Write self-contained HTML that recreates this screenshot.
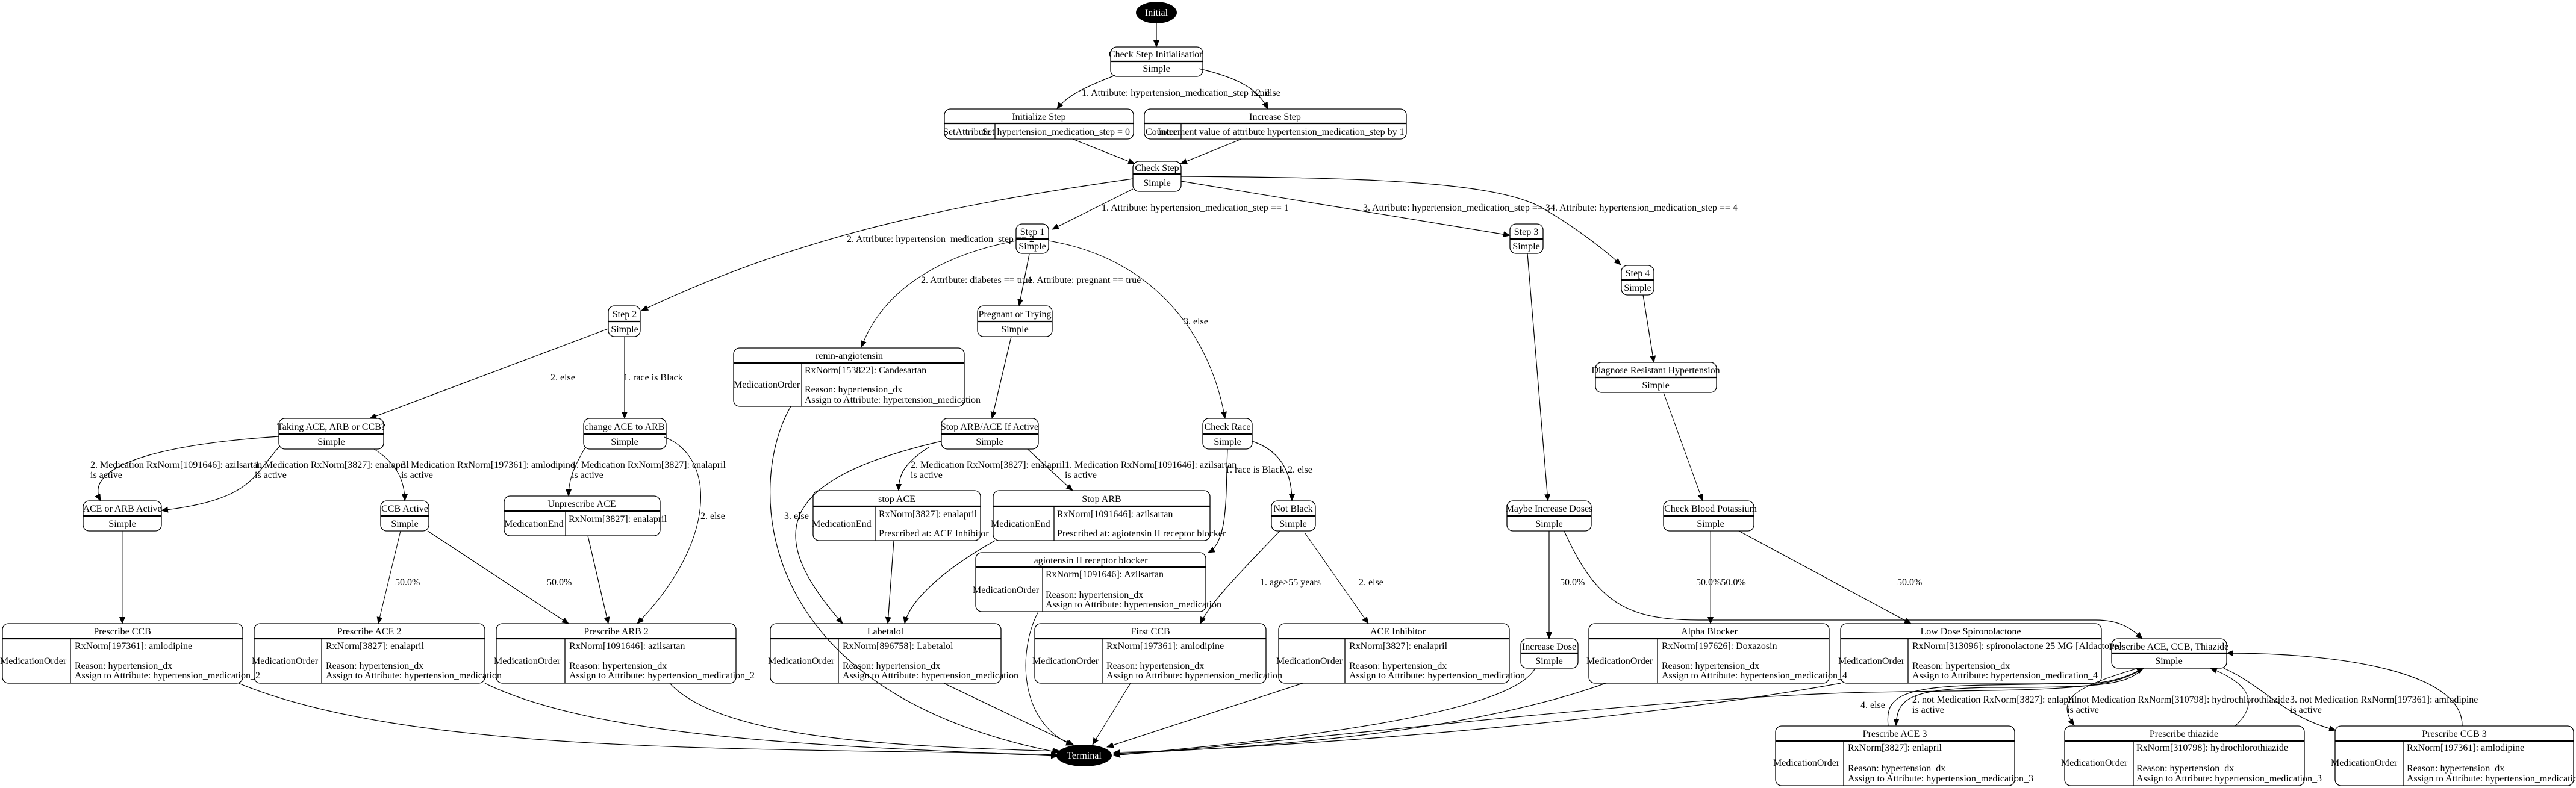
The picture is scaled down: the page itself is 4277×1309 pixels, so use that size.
<!DOCTYPE html>
<html><head><meta charset="utf-8"><style>
html,body{margin:0;padding:0;background:#fff;}
svg{display:block;}
text{font-family:"Liberation Serif",serif;font-size:16px;fill:#000;}
.n{fill:none;stroke:#000;stroke-width:1.3;}
.e{fill:none;stroke:#000;stroke-width:1.2;}
.d{fill:none;stroke:#000;stroke-width:1;}
.g{fill:none;stroke:#000;stroke-width:0.8;}
.hd{stroke:#000;stroke-width:2.2;}
.c{text-anchor:middle;}
.w{fill:#fff;}
</style></head><body>
<svg width="4277" height="1309" viewBox="0 0 4277 1309" xmlns="http://www.w3.org/2000/svg">
<defs><marker id="a" markerWidth="12" markerHeight="10" refX="11" refY="5" orient="auto" markerUnits="userSpaceOnUse"><path d="M0,0 L12,5 L0,10 z" fill="#000"/></marker></defs>

<g marker-end="url(#a)">
<path class="e" d="M1920,39 L1920,78"/>
<path class="e" d="M1852,125 C1800,145 1770,160 1755,181"/>
<path class="e" d="M1990,114 C2060,130 2090,150 2105,181"/>
<path class="e" d="M1781,231 L1884,272"/>
<path class="e" d="M2061,231 L1960,272"/>
<path class="e" d="M1881,314 L1747,381"/>
<path class="e" d="M1881,297 C1580,340 1330,390 1065,516"/>
<path class="e" d="M1961,301 L2507,391"/>
<path class="e" d="M1961,293 C2250,295 2480,300 2560,345 C2620,380 2670,420 2691,440"/>
<path class="d" d="M1687,400 C1580,420 1470,470 1430,577"/>
<path class="e" d="M1709,422 L1692,508"/>
<path class="d" d="M1741,400 C1920,430 2010,560 2034,695"/>
<path class="e" d="M1010,546 L614,695"/>
<path class="e" d="M1037,559 L1037,695"/>
<path class="e" d="M1313,675 C1240,800 1240,1150 1758,1250"/>
<path class="e" d="M1679,559 L1647,695"/>
<path class="e" d="M463,725 C240,740 140,780 167,832"/>
<path class="e" d="M463,743 C420,790 420,830 268,848"/>
<path class="d" d="M621,746 C660,770 672,800 672,832"/>
<path class="d" d="M972,743 C950,780 944,800 944,824"/>
<path class="d" d="M1103,726 C1190,760 1190,900 1058,1036"/>
<path class="g" d="M203,882 L203,1036"/>
<path class="d" d="M665,882 L628,1036"/>
<path class="e" d="M710,882 L944,1036"/>
<path class="e" d="M976,890 L1010,1036"/>
<path class="e" d="M1563,733 C1270,800 1280,900 1399,1036"/>
<path class="e" d="M1542,743 C1500,770 1492,790 1492,815"/>
<path class="e" d="M1706,746 L1781,815"/>
<path class="e" d="M1484,898 L1474,1036"/>
<path class="e" d="M1652,898 C1560,950 1510,1000 1502,1036"/>
<path class="e" d="M2038,746 C2035,820 2040,900 2006,918"/>
<path class="e" d="M2079,733 C2130,750 2145,790 2145,832"/>
<path class="d" d="M1724,1016 C1690,1080 1690,1200 1781,1238"/>
<path class="e" d="M2125,882 C2060,950 2010,1000 1993,1036"/>
<path class="d" d="M2167,886 L2272,1036"/>
<path class="e" d="M396,1135 C700,1260 1300,1240 1756,1254"/>
<path class="e" d="M805,1135 C1000,1230 1400,1240 1756,1256"/>
<path class="e" d="M1112,1135 C1200,1230 1500,1240 1760,1248"/>
<path class="e" d="M1567,1135 L1783,1238"/>
<path class="d" d="M1877,1135 L1814,1237"/>
<path class="e" d="M2163,1135 L1838,1241"/>
<path class="e" d="M2549,1110 C2500,1200 2000,1240 1849,1255"/>
<path class="e" d="M2666,1135 C2400,1230 2000,1245 1849,1252"/>
<path class="e" d="M3056,1135 C2700,1200 2100,1245 1849,1250"/>
<path class="e" d="M3559,1110 C3500,1150 3400,1145 3100,1150 C2700,1160 2100,1240 1849,1254"/>
<path class="e" d="M2536,421 L2570,832"/>
<path class="e" d="M2728,490 L2746,602"/>
<path class="d" d="M2762,652 L2827,832"/>
<path class="e" d="M2572,882 L2572,1061"/>
<path class="e" d="M2597,882 C2650,1000 2700,1030 2820,1030 L3480,1030 C3520,1030 3540,1045 3557,1061"/>
<path class="g" d="M2840,882 L2840,1036"/>
<path class="e" d="M2887,882 L3173,1036"/>
<path class="e" d="M3135,1206 C3130,1160 3150,1140 3300,1138 L3480,1135 C3520,1130 3540,1120 3559,1110"/>
<path class="e" d="M3559,1110 C3530,1140 3480,1142 3300,1142 C3170,1145 3150,1160 3148,1205"/>
<path class="d" d="M3550,1110 C3450,1140 3410,1160 3444,1205"/>
<path class="e" d="M3692,1110 C3760,1140 3790,1190 3878,1213"/>
<path class="d" d="M3711,1206 C3760,1160 3720,1130 3670,1110"/>
<path class="e" d="M4088,1206 C4090,1120 3900,1085 3697,1085"/>
</g>

<text x="1796" y="159">1. Attribute: hypertension_medication_step is nil</text>
<text x="2085" y="159">2. else</text>
<text x="1829" y="350">1. Attribute: hypertension_medication_step == 1</text>
<text x="1406" y="402">2. Attribute: hypertension_medication_step == 2</text>
<text x="2263" y="350">3. Attribute: hypertension_medication_step == 3</text>
<text x="2574" y="350">4. Attribute: hypertension_medication_step == 4</text>
<text x="1529" y="470">2. Attribute: diabetes == true</text>
<text x="1706" y="470">1. Attribute: pregnant == true</text>
<text x="1965" y="539">3. else</text>
<text x="914" y="632">2. else</text>
<text x="1035" y="632">1. race is Black</text>
<text x="150" y="777">2. Medication RxNorm[1091646]: azilsartan</text><text x="150" y="794">is active</text>
<text x="423" y="777">1. Medication RxNorm[3827]: enalapril</text><text x="423" y="794">is active</text>
<text x="666" y="777">3. Medication RxNorm[197361]: amlodipine</text><text x="666" y="794">is active</text>
<text x="949" y="777">1. Medication RxNorm[3827]: enalapril</text><text x="949" y="794">is active</text>
<text x="1512" y="777">2. Medication RxNorm[3827]: enalapril</text><text x="1512" y="794">is active</text>
<text x="1768" y="777">1. Medication RxNorm[1091646]: azilsartan</text><text x="1768" y="794">is active</text>
<text x="2034" y="785">1. race is Black</text>
<text x="2138" y="785">2. else</text>
<text x="1163" y="862">2. else</text>
<text x="1302" y="862">3. else</text>
<text x="656" y="972">50.0%</text>
<text x="908" y="972">50.0%</text>
<text x="2092" y="972">1. age&gt;55 years</text>
<text x="2256" y="972">2. else</text>
<text x="2590" y="972">50.0%</text>
<text x="2816" y="972">50.0%50.0%</text>
<text x="3150" y="972">50.0%</text>
<text x="3089" y="1176">4. else</text>
<text x="3175" y="1167">2. not Medication RxNorm[3827]: enlapril</text><text x="3175" y="1184">is active</text>
<text x="3432" y="1167">1. not Medication RxNorm[310798]: hydrochlorothiazide</text><text x="3432" y="1184">is active</text>
<text x="3802" y="1167">3. not Medication RxNorm[197361]: amlodipine</text><text x="3802" y="1184">is active</text>

<ellipse cx="1920" cy="21" rx="34" ry="18" fill="#000"/>
<text class="c w" x="1920" y="26">Initial</text>
<ellipse cx="1800" cy="1255" rx="46" ry="18" fill="#000"/>
<text class="c w" x="1800" y="1260">Terminal</text>

<g>
<rect class="n" x="1844" y="78" width="153" height="49" rx="10"/><line class="hd" x1="1844" y1="102" x2="1997" y2="102"/>
<text class="c" x="1920" y="95">Check Step Initialisation</text><text class="c" x="1920" y="119">Simple</text>
<rect class="n" x="1881" y="268" width="80" height="50" rx="10"/><line class="hd" x1="1881" y1="289" x2="1961" y2="289"/>
<text class="c" x="1921" y="284">Check Step</text><text class="c" x="1921" y="309">Simple</text>
<rect class="n" x="1687" y="372" width="54" height="49" rx="10"/><line class="hd" x1="1687" y1="397" x2="1741" y2="397"/>
<text class="c" x="1714" y="390">Step 1</text><text class="c" x="1714" y="414">Simple</text>
<rect class="n" x="2507" y="372" width="55" height="49" rx="10"/><line class="hd" x1="2507" y1="397" x2="2562" y2="397"/>
<text class="c" x="2534" y="390">Step 3</text><text class="c" x="2534" y="414">Simple</text>
<rect class="n" x="2692" y="441" width="54" height="49" rx="10"/><line class="hd" x1="2692" y1="465" x2="2746" y2="465"/>
<text class="c" x="2719" y="459">Step 4</text><text class="c" x="2719" y="483">Simple</text>
<rect class="n" x="1010" y="508" width="53" height="51" rx="10"/><line class="hd" x1="1010" y1="534" x2="1063" y2="534"/>
<text class="c" x="1037" y="527">Step 2</text><text class="c" x="1037" y="552">Simple</text>
<rect class="n" x="1623" y="508" width="124" height="51" rx="10"/><line class="hd" x1="1623" y1="534" x2="1747" y2="534"/>
<text class="c" x="1685" y="527">Pregnant or Trying</text><text class="c" x="1685" y="552">Simple</text>
<rect class="n" x="2649" y="602" width="201" height="50" rx="10"/><line class="hd" x1="2649" y1="627" x2="2850" y2="627"/>
<text class="c" x="2749" y="620">Diagnose Resistant Hypertension</text><text class="c" x="2749" y="645">Simple</text>
<rect class="n" x="463" y="695" width="174" height="51" rx="10"/><line class="hd" x1="463" y1="721" x2="637" y2="721"/>
<text class="c" x="550" y="714">Taking ACE, ARB or CCB?</text><text class="c" x="550" y="739">Simple</text>
<rect class="n" x="969" y="695" width="137" height="51" rx="10"/><line class="hd" x1="969" y1="721" x2="1106" y2="721"/>
<text class="c" x="1037" y="714">change ACE to ARB</text><text class="c" x="1037" y="739">Simple</text>
<rect class="n" x="1563" y="695" width="161" height="51" rx="10"/><line class="hd" x1="1563" y1="721" x2="1724" y2="721"/>
<text class="c" x="1643" y="714">Stop ARB/ACE If Active</text><text class="c" x="1643" y="739">Simple</text>
<rect class="n" x="1997" y="695" width="82" height="51" rx="10"/><line class="hd" x1="1997" y1="721" x2="2079" y2="721"/>
<text class="c" x="2038" y="714">Check Race</text><text class="c" x="2038" y="739">Simple</text>
<rect class="n" x="138" y="832" width="130" height="50" rx="10"/><line class="hd" x1="138" y1="857" x2="268" y2="857"/>
<text class="c" x="203" y="850">ACE or ARB Active</text><text class="c" x="203" y="875">Simple</text>
<rect class="n" x="632" y="832" width="80" height="50" rx="10"/><line class="hd" x1="632" y1="857" x2="712" y2="857"/>
<text class="c" x="672" y="850">CCB Active</text><text class="c" x="672" y="875">Simple</text>
<rect class="n" x="2111" y="832" width="73" height="50" rx="10"/><line class="hd" x1="2111" y1="857" x2="2184" y2="857"/>
<text class="c" x="2147" y="850">Not Black</text><text class="c" x="2147" y="875">Simple</text>
<rect class="n" x="2502" y="832" width="140" height="50" rx="10"/><line class="hd" x1="2502" y1="857" x2="2642" y2="857"/>
<text class="c" x="2572" y="850">Maybe Increase Doses</text><text class="c" x="2572" y="875">Simple</text>
<rect class="n" x="2762" y="832" width="150" height="50" rx="10"/><line class="hd" x1="2762" y1="857" x2="2912" y2="857"/>
<text class="c" x="2840" y="850">Check Blood Potassium</text><text class="c" x="2840" y="875">Simple</text>
<rect class="n" x="2525" y="1061" width="95" height="49" rx="10"/><line class="hd" x1="2525" y1="1085" x2="2620" y2="1085"/>
<text class="c" x="2572" y="1079">Increase Dose</text><text class="c" x="2572" y="1103">Simple</text>
<rect class="n" x="3506" y="1061" width="191" height="49" rx="10"/><line class="hd" x1="3506" y1="1085" x2="3697" y2="1085"/>
<text class="c" x="3601" y="1079">Prescribe ACE, CCB, Thiazide</text><text class="c" x="3601" y="1103">Simple</text>
</g>

<rect class="n" x="1568" y="181" width="314" height="50" rx="10"/><line class="hd" x1="1568" y1="205" x2="1882" y2="205"/><line class="n" x1="1652" y1="205" x2="1652" y2="231"/>
<text class="c" x="1725" y="199">Initialize Step</text>
<text x="1566" y="224">SetAttribute</text><text x="1631" y="224">Set hypertension_medication_step = 0</text>

<rect class="n" x="1900" y="181" width="435" height="50" rx="10"/><line class="hd" x1="1900" y1="205" x2="2335" y2="205"/><line class="n" x1="1961" y1="205" x2="1961" y2="231"/>
<text class="c" x="2117" y="199">Increase Step</text>
<text x="1902" y="224">Counter</text><text x="1922" y="224">Increment value of attribute hypertension_medication_step by 1</text>

<rect class="n" x="1218" y="578" width="383" height="97" rx="10"/><line class="hd" x1="1218" y1="603" x2="1601" y2="603"/><line class="n" x1="1331" y1="603" x2="1331" y2="675"/>
<text class="c" x="1410" y="596">renin-angiotensin</text>
<text x="1218" y="644">MedicationOrder</text>
<text x="1336" y="620">RxNorm[153822]: Candesartan</text>
<text x="1336" y="652">Reason: hypertension_dx</text>
<text x="1336" y="669">Assign to Attribute: hypertension_medication</text>

<rect class="n" x="837" y="824" width="259" height="66" rx="10"/><line class="hd" x1="837" y1="849" x2="1096" y2="849"/><line class="n" x1="939" y1="849" x2="939" y2="890"/>
<text class="c" x="966" y="842">Unprescribe ACE</text>
<text x="837" y="875">MedicationEnd</text><text x="944" y="867">RxNorm[3827]: enalapril</text>

<rect class="n" x="1350" y="815" width="278" height="83" rx="10"/><line class="hd" x1="1350" y1="841" x2="1628" y2="841"/><line class="n" x1="1454" y1="841" x2="1454" y2="898"/>
<text class="c" x="1489" y="834">stop ACE</text>
<text x="1348" y="875">MedicationEnd</text><text x="1459" y="859">RxNorm[3827]: enalapril</text><text x="1459" y="891">Prescribed at: ACE Inhibitor</text>

<rect class="n" x="1649" y="815" width="360" height="83" rx="10"/><line class="hd" x1="1649" y1="841" x2="2009" y2="841"/><line class="n" x1="1750" y1="841" x2="1750" y2="898"/>
<text class="c" x="1829" y="834">Stop ARB</text>
<text x="1645" y="875">MedicationEnd</text><text x="1755" y="859">RxNorm[1091646]: azilsartan</text><text x="1755" y="891">Prescribed at: agiotensin II receptor blocker</text>

<rect class="n" x="1620" y="918" width="382" height="98" rx="10"/><line class="hd" x1="1620" y1="942" x2="2002" y2="942"/><line class="n" x1="1731" y1="942" x2="1731" y2="1016"/>
<text class="c" x="1811" y="936">agiotensin II receptor blocker</text>
<text x="1615" y="985">MedicationOrder</text>
<text x="1736" y="959">RxNorm[1091646]: Azilsartan</text>
<text x="1736" y="993">Reason: hypertension_dx</text>
<text x="1736" y="1009">Assign to Attribute: hypertension_medication</text>

<g>
<rect class="n" x="4" y="1036" width="399" height="99" rx="10"/><line class="hd" x1="4" y1="1061" x2="403" y2="1061"/><line class="n" x1="117" y1="1061" x2="117" y2="1135"/>
<text class="c" x="203" y="1054">Prescribe CCB</text><text x="0" y="1103">MedicationOrder</text>
<text x="124" y="1078">RxNorm[197361]: amlodipine</text><text x="124" y="1111">Reason: hypertension_dx</text><text x="124" y="1127">Assign to Attribute: hypertension_medication_2</text>
<rect class="n" x="422" y="1036" width="383" height="99" rx="10"/><line class="hd" x1="422" y1="1061" x2="805" y2="1061"/><line class="n" x1="534" y1="1061" x2="534" y2="1135"/>
<text class="c" x="613" y="1054">Prescribe ACE 2</text><text x="418" y="1103">MedicationOrder</text>
<text x="541" y="1078">RxNorm[3827]: enalapril</text><text x="541" y="1111">Reason: hypertension_dx</text><text x="541" y="1127">Assign to Attribute: hypertension_medication</text>
<rect class="n" x="824" y="1036" width="398" height="99" rx="10"/><line class="hd" x1="824" y1="1061" x2="1222" y2="1061"/><line class="n" x1="938" y1="1061" x2="938" y2="1135"/>
<text class="c" x="1023" y="1054">Prescribe ARB 2</text><text x="820" y="1103">MedicationOrder</text>
<text x="945" y="1078">RxNorm[1091646]: azilsartan</text><text x="945" y="1111">Reason: hypertension_dx</text><text x="945" y="1127">Assign to Attribute: hypertension_medication_2</text>
<rect class="n" x="1279" y="1036" width="383" height="99" rx="10"/><line class="hd" x1="1279" y1="1061" x2="1662" y2="1061"/><line class="n" x1="1392" y1="1061" x2="1392" y2="1135"/>
<text class="c" x="1470" y="1054">Labetalol</text><text x="1275" y="1103">MedicationOrder</text>
<text x="1399" y="1078">RxNorm[896758]: Labetalol</text><text x="1399" y="1111">Reason: hypertension_dx</text><text x="1399" y="1127">Assign to Attribute: hypertension_medication</text>
<rect class="n" x="1718" y="1036" width="384" height="99" rx="10"/><line class="hd" x1="1718" y1="1061" x2="2102" y2="1061"/><line class="n" x1="1830" y1="1061" x2="1830" y2="1135"/>
<text class="c" x="1910" y="1054">First CCB</text><text x="1714" y="1103">MedicationOrder</text>
<text x="1837" y="1078">RxNorm[197361]: amlodipine</text><text x="1837" y="1111">Reason: hypertension_dx</text><text x="1837" y="1127">Assign to Attribute: hypertension_medication</text>
<rect class="n" x="2123" y="1036" width="383" height="99" rx="10"/><line class="hd" x1="2123" y1="1061" x2="2506" y2="1061"/><line class="n" x1="2233" y1="1061" x2="2233" y2="1135"/>
<text class="c" x="2321" y="1054">ACE Inhibitor</text><text x="2119" y="1103">MedicationOrder</text>
<text x="2240" y="1078">RxNorm[3827]: enalapril</text><text x="2240" y="1111">Reason: hypertension_dx</text><text x="2240" y="1127">Assign to Attribute: hypertension_medication</text>
<rect class="n" x="2638" y="1036" width="399" height="99" rx="10"/><line class="hd" x1="2638" y1="1061" x2="3037" y2="1061"/><line class="n" x1="2752" y1="1061" x2="2752" y2="1135"/>
<text class="c" x="2838" y="1054">Alpha Blocker</text><text x="2634" y="1103">MedicationOrder</text>
<text x="2759" y="1078">RxNorm[197626]: Doxazosin</text><text x="2759" y="1111">Reason: hypertension_dx</text><text x="2759" y="1127">Assign to Attribute: hypertension_medication_4</text>
<rect class="n" x="3056" y="1036" width="433" height="99" rx="10"/><line class="hd" x1="3056" y1="1061" x2="3489" y2="1061"/><line class="n" x1="3168" y1="1061" x2="3168" y2="1135"/>
<text class="c" x="3272" y="1054">Low Dose Spironolactone</text><text x="3052" y="1103">MedicationOrder</text>
<text x="3175" y="1078">RxNorm[313096]: spironolactone 25 MG [Aldactone]</text><text x="3175" y="1111">Reason: hypertension_dx</text><text x="3175" y="1127">Assign to Attribute: hypertension_medication_4</text>
</g>

<g>
<rect class="n" x="2948" y="1206" width="397" height="99" rx="10"/><line class="hd" x1="2948" y1="1231" x2="3345" y2="1231"/><line class="n" x1="3061" y1="1231" x2="3061" y2="1305"/>
<text class="c" x="3146" y="1224">Prescribe ACE 3</text><text x="2944" y="1272">MedicationOrder</text>
<text x="3068" y="1247">RxNorm[3827]: enlapril</text><text x="3068" y="1281">Reason: hypertension_dx</text><text x="3068" y="1298">Assign to Attribute: hypertension_medication_3</text>
<rect class="n" x="3428" y="1206" width="398" height="99" rx="10"/><line class="hd" x1="3428" y1="1231" x2="3826" y2="1231"/><line class="n" x1="3542" y1="1231" x2="3542" y2="1305"/>
<text class="c" x="3626" y="1224">Prescribe thiazide</text><text x="3422" y="1272">MedicationOrder</text>
<text x="3547" y="1247">RxNorm[310798]: hydrochlorothiazide</text><text x="3547" y="1281">Reason: hypertension_dx</text><text x="3547" y="1298">Assign to Attribute: hypertension_medication_3</text>
<rect class="n" x="3877" y="1206" width="396" height="99" rx="10"/><line class="hd" x1="3877" y1="1231" x2="4273" y2="1231"/><line class="n" x1="3991" y1="1231" x2="3991" y2="1305"/>
<text class="c" x="4075" y="1224">Prescribe CCB 3</text><text x="3870" y="1272">MedicationOrder</text>
<text x="3996" y="1247">RxNorm[197361]: amlodipine</text><text x="3996" y="1281">Reason: hypertension_dx</text><text x="3996" y="1298">Assign to Attribute: hypertension_medication_3</text>
</g>
</svg>
</body></html>
